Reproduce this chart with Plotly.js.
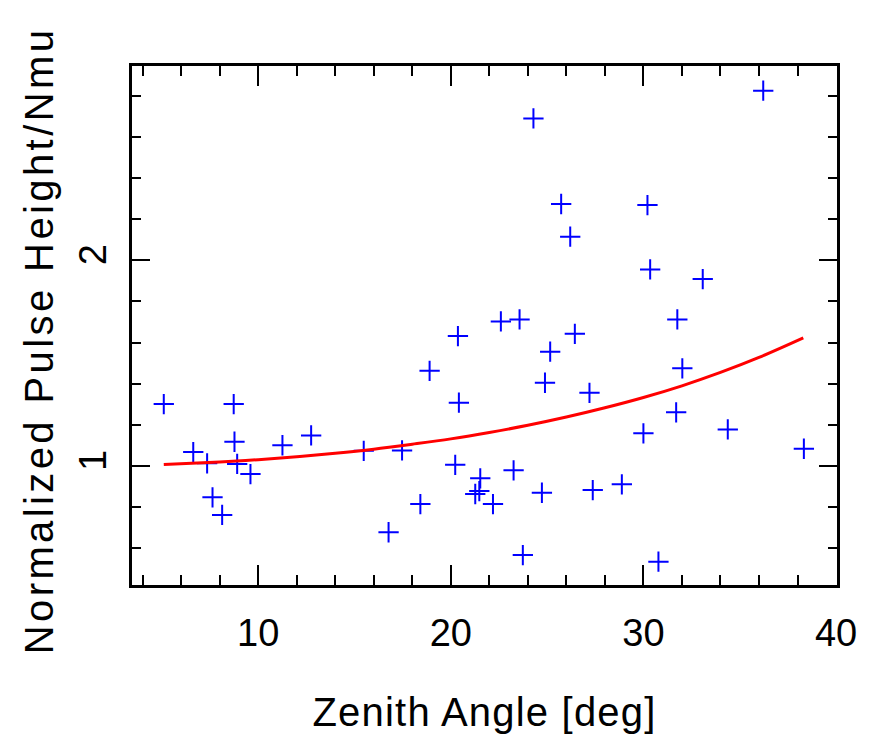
<!DOCTYPE html>
<html>
<head>
<meta charset="utf-8">
<script src="https://cdn.plot.ly/plotly-3.0.1.min.js"></script>
<style>
  html, body { margin: 0; padding: 0; background: #fff; }
  #chart { width: 875px; height: 736px; }
  .xtitle { letter-spacing: 1.2px; }
  .ytitle { letter-spacing: 3.4px; }
</style>
</head>
<body>
<div id="chart"></div>
<script>
// Measured data points (zenith angle in degrees, normalized pulse height)
const zenithAngle = [5.10, 6.63, 7.35, 7.63, 8.13, 8.73, 8.77, 8.91, 9.60, 11.26,
  12.75, 15.48, 16.77, 17.47, 18.42, 18.90, 20.23, 20.37, 20.42, 21.27,
  21.48, 21.53, 22.19, 22.60, 23.26, 23.57, 23.74, 24.29, 24.73, 24.89,
  25.16, 25.73, 26.20, 26.44, 27.20, 27.37, 28.88, 30.00, 30.21, 30.35,
  30.78, 31.70, 31.76, 32.02, 33.08, 34.38, 36.22, 38.33];
const pulseHeight = [1.301, 1.068, 1.013, 0.848, 0.762, 1.301, 1.118, 1.010, 0.961, 1.101,
  1.149, 1.074, 0.678, 1.076, 0.815, 1.463, 1.006, 1.632, 1.308, 0.864,
  0.878, 0.940, 0.815, 1.703, 0.979, 1.713, 0.567, 2.690, 0.870, 1.405,
  1.556, 2.274, 2.115, 1.643, 1.356, 0.883, 0.911, 1.159, 2.269, 1.956,
  0.535, 1.261, 1.713, 1.475, 1.909, 1.178, 2.825, 1.084];

// Fitted curve
const curveAngle = [5.1, 8, 10, 12, 14, 16, 18, 20, 22, 24, 26, 28, 30, 32, 34, 36, 38.3];
const curveHeight = [1.008, 1.020, 1.031, 1.045, 1.062, 1.082, 1.106, 1.132, 1.163,
  1.198, 1.238, 1.283, 1.333, 1.390, 1.455, 1.528, 1.623];

// Tick labels
const xTickVals = [10, 20, 30, 40];
const xTickText = ['10', '20', '30', '40'];
const yTickVals = [1, 2];
const yTickText = ['1', '2'];

const tickFont = { family: '"Liberation Sans", Arial, sans-serif', size: 38, color: '#000' };
const titleFont = { family: '"Liberation Sans", Arial, sans-serif', size: 40, color: '#000' };

const traces = [
  {
    x: zenithAngle, y: pulseHeight, type: 'scatter', mode: 'markers',
    marker: { symbol: 'cross-thin-open', size: 14.5, color: '#0000ff', line: { color: '#0000ff', width: 2 } },
    hoverinfo: 'x+y', showlegend: false
  },
  {
    x: curveAngle, y: curveHeight, type: 'scatter', mode: 'lines',
    line: { color: '#ff0000', width: 3, shape: 'spline' },
    showlegend: false
  }
];

const layout = {
  width: 875, height: 736,
  margin: { l: 132, r: 38, t: 66, b: 151 },
  paper_bgcolor: '#fff', plot_bgcolor: '#fff',
  showlegend: false,
  xaxis: {
    range: [3.45, 40.05], autorange: false,
    tickmode: 'array', tickvals: xTickVals, ticktext: xTickText,
    ticks: 'inside', ticklen: 20, tickwidth: 2, tickcolor: '#000',
    minor: { tickmode: 'linear', tick0: 0, dtick: 2, ticks: 'inside', ticklen: 10, tickwidth: 2, tickcolor: '#000', showgrid: false },
    showline: true, linecolor: '#000', linewidth: 3, mirror: 'ticks',
    showgrid: false, zeroline: false,
    tickfont: tickFont, ticklabelstandoff: 12,
    title: { text: 'Zenith Angle [deg]', font: titleFont, standoff: 46 },
    automargin: false
  },
  yaxis: {
    range: [0.4215, 2.945], autorange: false,
    tickmode: 'array', tickvals: yTickVals, ticktext: yTickText, tickangle: -90,
    ticks: 'inside', ticklen: 18, tickwidth: 2, tickcolor: '#000',
    minor: { tickmode: 'linear', tick0: 0, dtick: 0.2, ticks: 'inside', ticklen: 9, tickwidth: 2, tickcolor: '#000', showgrid: false },
    showline: true, linecolor: '#000', linewidth: 3, mirror: 'ticks',
    showgrid: false, zeroline: false,
    tickfont: tickFont, ticklabelstandoff: 8,
    title: { text: 'Normalized Pulse Height/Nmu', font: titleFont, standoff: 6 },
    automargin: false
  }
};

Plotly.newPlot('chart', traces, layout, { staticPlot: true, displayModeBar: false }).then(function () {
  // shift the y title down slightly, as in the reference
  var yt = document.querySelector('.ytitle');
  if (yt) {
    var tr = yt.getAttribute('transform') || '';
    yt.setAttribute('transform', 'translate(0,15) ' + tr);
  }
});
</script>
</body>
</html>
